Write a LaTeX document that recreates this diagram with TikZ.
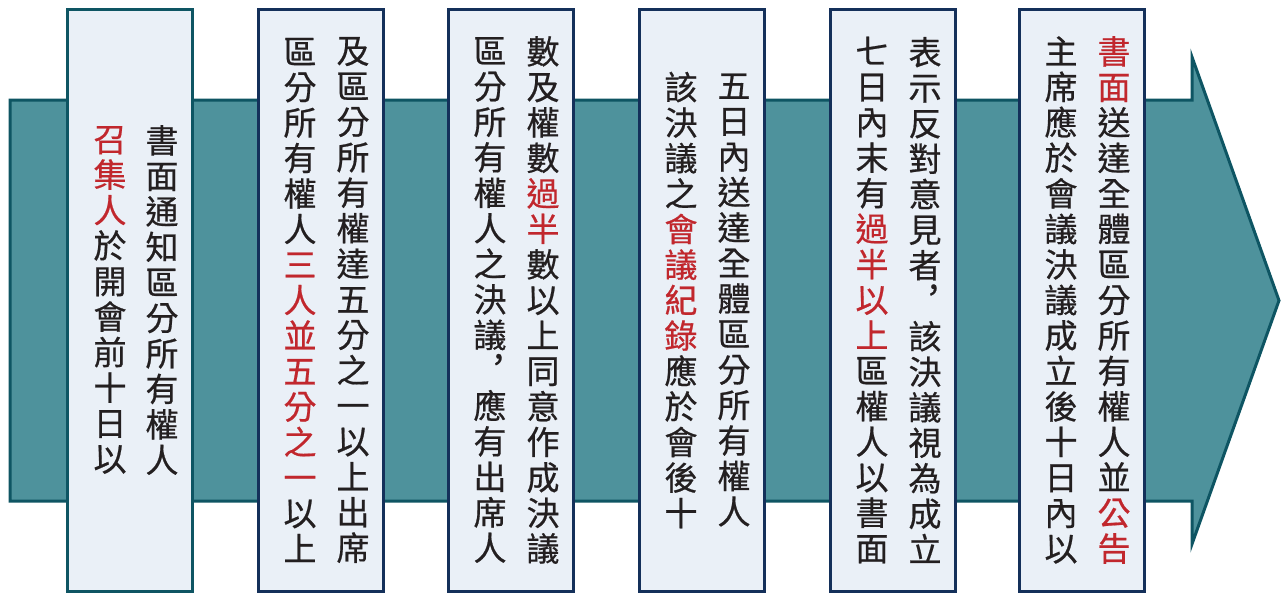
\documentclass[tikz,border=0pt]{standalone}
\usepackage{fontspec}
\newfontfamily\cjk[FakeBold=0.6,AutoFakeBold=0.6]{Noto Sans CJK TC}
\definecolor{arrowfill}{HTML}{4E929C}
\definecolor{arrowline}{HTML}{0E5563}
\definecolor{cardfill}{HTML}{EAF0F7}
\definecolor{cardline}{HTML}{14305A}
\definecolor{inktext}{HTML}{231F20}
\definecolor{inkred}{HTML}{C1272D}
\tikzset{
    bigarrow/.style={draw=arrowline, fill=arrowfill, line width=3pt, line join=miter},
    card/.style={draw=cardline, fill=cardfill, line width=3pt, minimum width=125pt, minimum height=582pt, inner sep=0pt},
    % one vertical column of characters, read top to bottom
    vcol/.style={font=\cjk\bfseries\fontsize{33}{35.5}\selectfont, text=inktext, align=center, inner sep=0pt},
}
\newcommand{\hl}[1]{{\color{inkred}#1}}
\begin{document}
\begin{tikzpicture}[x=1pt, y=-1pt]
    \useasboundingbox (0,0) rectangle (1285,595);

    % the long arrow behind the steps
    \draw[bigarrow] (10,100) -- (1192,100) -- (1192,57) -- (1279,300.5)
        -- (1192,544) -- (1192,501) -- (10,501) -- cycle;

    % step 1
    \node[card, draw=arrowline] (b1) at (129.5,300) {};
    \node[vcol] (b1r) at (162,300) {書\\面\\通\\知\\區\\分\\所\\有\\權\\人};
    \node[vcol] (b1l) at (110,300) {\hl{召}\\\hl{集}\\\hl{人}\\於\\開\\會\\前\\十\\日\\以};

    % step 2
    \node[card] (b2) at (320.5,300) {};
    \node[vcol] (b2r) at (353,300) {及\\區\\分\\所\\有\\權\\達\\五\\分\\之\\一\\以\\上\\出\\席};
    \node[vcol] (b2l) at (300,300) {區\\分\\所\\有\\權\\人\\\hl{三}\\\hl{人}\\\hl{並}\\\hl{五}\\\hl{分}\\\hl{之}\\\hl{一}\\以\\上};

    % step 3
    \node[card] (b3) at (510.5,300) {};
    \node[vcol] (b3r) at (543,300) {數\\及\\權\\數\\\hl{過}\\\hl{半}\\數\\以\\上\\同\\意\\作\\成\\決\\議};
    \node[vcol] (b3l) at (490,300) {區\\分\\所\\有\\權\\人\\之\\決\\議\\︐\\應\\有\\出\\席\\人};

    % step 4
    \node[card] (b4) at (701.5,300) {};
    \node[vcol] (b4r) at (734,300) {五\\日\\內\\送\\達\\全\\體\\區\\分\\所\\有\\權\\人};
    \node[vcol] (b4l) at (681,300) {該\\決\\議\\之\\\hl{會}\\\hl{議}\\\hl{紀}\\\hl{錄}\\應\\於\\會\\後\\十};

    % step 5
    \node[card] (b5) at (892.5,300) {};
    \node[vcol] (b5r) at (925,300) {表\\示\\反\\對\\意\\見\\者\\︐\\該\\決\\議\\視\\為\\成\\立};
    \node[vcol] (b5l) at (872,300) {七\\日\\內\\末\\有\\\hl{過}\\\hl{半}\\\hl{以}\\\hl{上}\\區\\權\\人\\以\\書\\面};

    % step 6
    \node[card] (b6) at (1082,300) {};
    \node[vcol] (b6r) at (1114,300) {\hl{書}\\\hl{面}\\送\\達\\全\\體\\區\\分\\所\\有\\權\\人\\並\\\hl{公}\\\hl{告}};
    \node[vcol] (b6l) at (1061,300) {主\\席\\應\\於\\會\\議\\決\\議\\成\\立\\後\\十\\日\\內\\以};
\end{tikzpicture}
\end{document}
